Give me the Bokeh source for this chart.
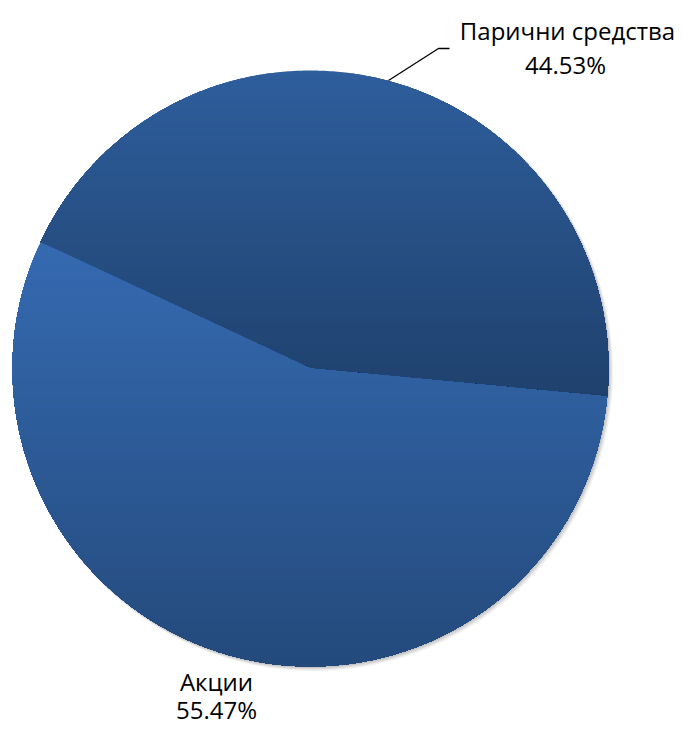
import math
from bokeh.plotting import figure
from bokeh.models import Range1d
from bokeh.core.properties import value
from bokeh.embed import file_html
from bokeh.resources import INLINE

# ---- data ----
categories = ["Парични средства", "Акции"]
shares = [44.53, 55.47]
pct_labels = ["44.53%", "55.47%"]

# ---- layout / style ----
W, H = 683, 729
CX, CY, R = 310, 368, 298
START_DEG = -5.4
top_colors = [(0x2E, 0x5E, 0x9C), (0x35, 0x6A, 0xB1)]
bot_colors = [(0x1F, 0x41, 0x6D), (0x24, 0x4A, 0x7C)]

p = figure(width=W, height=H, output_backend="svg", toolbar_location=None,
           x_range=Range1d(0, W), y_range=Range1d(H, 0),
           min_border=0)
p.axis.visible = False
p.grid.visible = False
p.outline_line_color = None
p.background_fill_color = "white"


def clip_y(poly, y0, y1):
    def clip(pts, inside, inter):
        out = []
        n = len(pts)
        for i in range(n):
            a = pts[i]
            b = pts[(i + 1) % n]
            ia, ib = inside(a), inside(b)
            if ia:
                out.append(a)
                if not ib:
                    out.append(inter(a, b))
            elif ib:
                out.append(inter(a, b))
        return out

    def inter_y(yc):
        def f(a, b):
            t = (yc - a[1]) / (b[1] - a[1])
            return (a[0] + t * (b[0] - a[0]), yc)
        return f

    pts = clip(poly, lambda q: q[1] >= y0, inter_y(y0))
    if not pts:
        return []
    pts = clip(pts, lambda q: q[1] <= y1, inter_y(y1))
    return pts


# soft shadow
for off, alpha in [(3.0, 0.15), (2.0, 0.25), (1.0, 0.35)]:
    sh_x = [CX + off + (R + off * 0.5) * math.cos(math.radians(a)) for a in range(0, 361, 2)]
    sh_y = [CY + off + (R + off * 0.5) * math.sin(math.radians(a)) for a in range(0, 361, 2)]
    p.patch(sh_x, sh_y, fill_color="#999999", fill_alpha=alpha, line_color=None)

total = sum(shares)
ang = START_DEG
xs_all, ys_all, cols = [], [], []
for i, s in enumerate(shares):
    span = s / total * 360.0
    n = max(4, int(span * 2))
    poly = [(CX, CY)]
    for k in range(n + 1):
        a = math.radians(ang + span * k / n)
        poly.append((CX + R * math.cos(a), CY - R * math.sin(a)))
    ymin = min(q[1] for q in poly)
    ymax = max(q[1] for q in poly)
    band = 3.0
    y = ymin
    while y < ymax:
        y1 = min(y + band, ymax)
        piece = clip_y(poly, y, ymax + 1)
        if len(piece) >= 3:
            t = ((y + y1) / 2 - ymin) / (ymax - ymin)
            c = tuple(int(round(top_colors[i][j] + t * (bot_colors[i][j] - top_colors[i][j]))) for j in range(3))
            xs_all.append([q[0] for q in piece])
            ys_all.append([q[1] for q in piece])
            cols.append("#%02x%02x%02x" % c)
        y = y1
    ang += span

p.patches(xs_all, ys_all, fill_color=cols, line_color=None)

# leader line
p.line([388, 438, 449], [80, 48, 48], line_color="black", line_width=1.3)

font = value("Open Sans")
p.text(x=[567, 216], y=[30, 681], text=categories, text_font=font,
       text_font_size="24px", text_color="black", text_align="center",
       text_baseline="middle")
p.text(x=[565, 216], y=[64, 709], text=pct_labels, text_font=font,
       text_font_size="24px", text_color="black", text_align="center",
       text_baseline="middle")

open("out.html", "w").write(file_html(p, INLINE))
